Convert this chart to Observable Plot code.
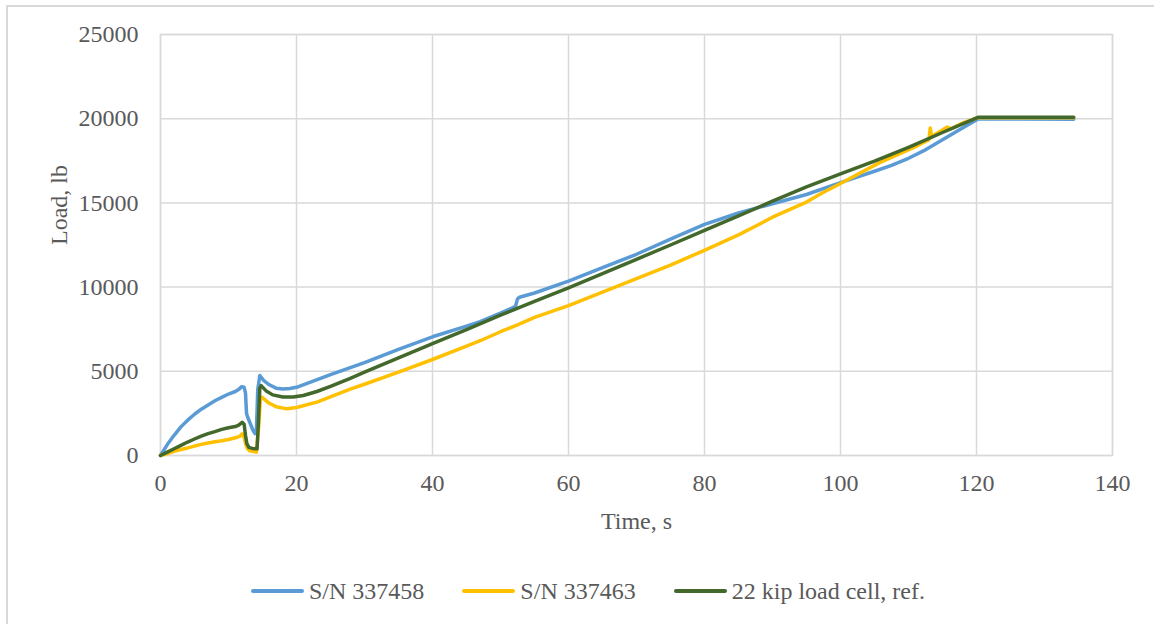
<!DOCTYPE html>
<html><head><meta charset="utf-8">
<script src="https://cdn.jsdelivr.net/npm/d3@7"></script>
<script src="https://cdn.jsdelivr.net/npm/@observablehq/plot@0.6"></script>
<style>
body{margin:0;background:#fff;font-family:"Liberation Serif","Times New Roman",serif;}
#wrap{position:relative;width:1154px;height:624px;overflow:hidden;background:#fff;}
#border{position:absolute;left:6px;top:5px;width:2000px;height:2000px;border-left:2px solid #d9d9d9;border-top:2px solid #d9d9d9;}
#chart{position:absolute;left:0;top:0;}
#legend{position:absolute;left:251px;top:576px;display:flex;align-items:center;font-size:24px;color:#595959;white-space:nowrap;line-height:30px;}
.item{display:flex;align-items:center;margin-right:38px}
.sw{width:53px;height:3.5px;margin-right:5px;border-radius:2px}
</style></head>
<body>
<div id="wrap"><div id="border"></div><div id="chart"></div><div id="legend"></div></div>
<script>
const seriesNames = ["S/N 337458", "S/N 337463", "22 kip load cell, ref."];
const seriesColors = ["#5B9BD5", "#FFC000", "#43682B"];
const xTicks = [0, 20, 40, 60, 80, 100, 120, 140];
const yTicks = [0, 5000, 10000, 15000, 20000, 25000];

const blueTime = [0,1,2,3,4,5,6,7,8,9,10,11,11.6,11.9,12.3,12.5,12.65,12.8,13.2,13.6,13.9,14.1,14.3,14.6,15.2,16,17,18,19,20,25,30,35,40,45,47,50,52.2,52.5,52.8,55,60,65,70,75,80,85,90,95,100,105,107.5,110,112.5,115,117.5,120.3,125,134.3];
const blueLoad = [0,650,1200,1700,2100,2450,2750,3000,3250,3450,3650,3800,3950,4080,4050,3700,2500,2300,1900,1500,1300,1450,3900,4750,4450,4200,4000,3950,3980,4050,4800,5520,6300,7050,7680,7950,8450,8850,9300,9400,9650,10350,11150,11950,12850,13720,14400,14950,15500,16200,16880,17230,17650,18150,18750,19350,20000,19980,19970];

const yellowTime = [0,1,2,3,4,5,6,7,8,9,10,11,11.7,12.0,12.3,12.5,12.8,13.1,14.1,14.4,14.7,14.9,16,17,18.6,20,23,28,30,35,40,45,47.1,50,52.5,53,55,60,65,70,75,79.9,85,88.2,90,95,97.1,100,105.9,110.8,113.0,113.2,113.4,115.7,116.2,118,120.2,125,134.3];
const yellowLoad = [0,120,250,360,450,560,660,740,820,880,950,1050,1150,1290,1100,700,400,280,200,1500,3370,3470,3100,2900,2770,2850,3170,3960,4230,4950,5700,6500,6830,7350,7750,7850,8200,8900,9700,10500,11300,12170,13100,13760,14150,15050,15540,16150,17420,18300,18750,19450,18950,19500,19400,19750,20060,20060,20060];

const greenTime = [0,1,2,3,4,5,6,7,8,9,10,11,11.5,12.0,12.3,12.5,12.7,13.0,13.5,14.2,14.4,14.6,14.8,15.5,16.5,18,19.5,20,21,23,25,28,30,35,40,45,50,55,60,65,70,75,80,85,90,95,100,105,110,115,120.3,134.3];
const greenLoad = [0,200,400,600,800,980,1150,1300,1420,1550,1650,1720,1800,1970,1850,1200,700,480,420,400,2000,4000,4150,3850,3600,3470,3470,3500,3560,3800,4100,4600,4950,5800,6650,7480,8330,9150,9950,10800,11650,12500,13370,14230,15100,15950,16720,17480,18300,19180,20090,20090];

const toRows = (ts, vs) => ts.map((t, i) => ({t, v: vs[i]}));
const series = [toRows(blueTime, blueLoad), toRows(yellowTime, yellowLoad), toRows(greenTime, greenLoad)];

const grid = "#d9d9d9";
const chart = Plot.plot({
  width: 1154, height: 545,
  marginLeft: 160, marginRight: 42, marginTop: 34, marginBottom: 90,
  style: {fontFamily: '"Liberation Serif","Times New Roman",serif', fontSize: "24px", color: "#595959", background: "transparent", overflow: "visible"},
  x: {domain: [0, 140]},
  y: {domain: [0, 25000]},
  marks: [
    Plot.gridX(xTicks, {stroke: grid, strokeOpacity: 1, strokeWidth: 1.5}),
    Plot.gridY(yTicks, {stroke: grid, strokeOpacity: 1, strokeWidth: 1.5}),
    Plot.frame({stroke: grid, strokeWidth: 1.5}),
    Plot.axisX(xTicks, {tickSize: 0, tickPadding: 18, label: null, tickFormat: "d"}),
    Plot.axisY(yTicks, {tickSize: 0, tickPadding: 22, label: null, tickFormat: "d"}),
    ...series.map((d, i) => Plot.line(d, {x: "t", y: "v", stroke: seriesColors[i], strokeWidth: 3.5, strokeLinejoin: "round", strokeLinecap: "round"})),
    Plot.text(["Time, s"], {frameAnchor: "bottom", dy: 66, lineAnchor: "middle", fill: "#595959"}),
    Plot.text(["Load, lb"], {frameAnchor: "left", dx: -101, rotate: -90, lineAnchor: "middle", fill: "#595959"})
  ]
});
document.getElementById("chart").appendChild(chart);

const legend = document.getElementById("legend");
seriesNames.forEach((name, i) => {
  const item = document.createElement("div");
  item.className = "item";
  const sw = document.createElement("span");
  sw.className = "sw";
  sw.style.background = seriesColors[i];
  const label = document.createElement("span");
  label.textContent = name;
  item.appendChild(sw);
  item.appendChild(label);
  legend.appendChild(item);
});
</script>
</body></html>
